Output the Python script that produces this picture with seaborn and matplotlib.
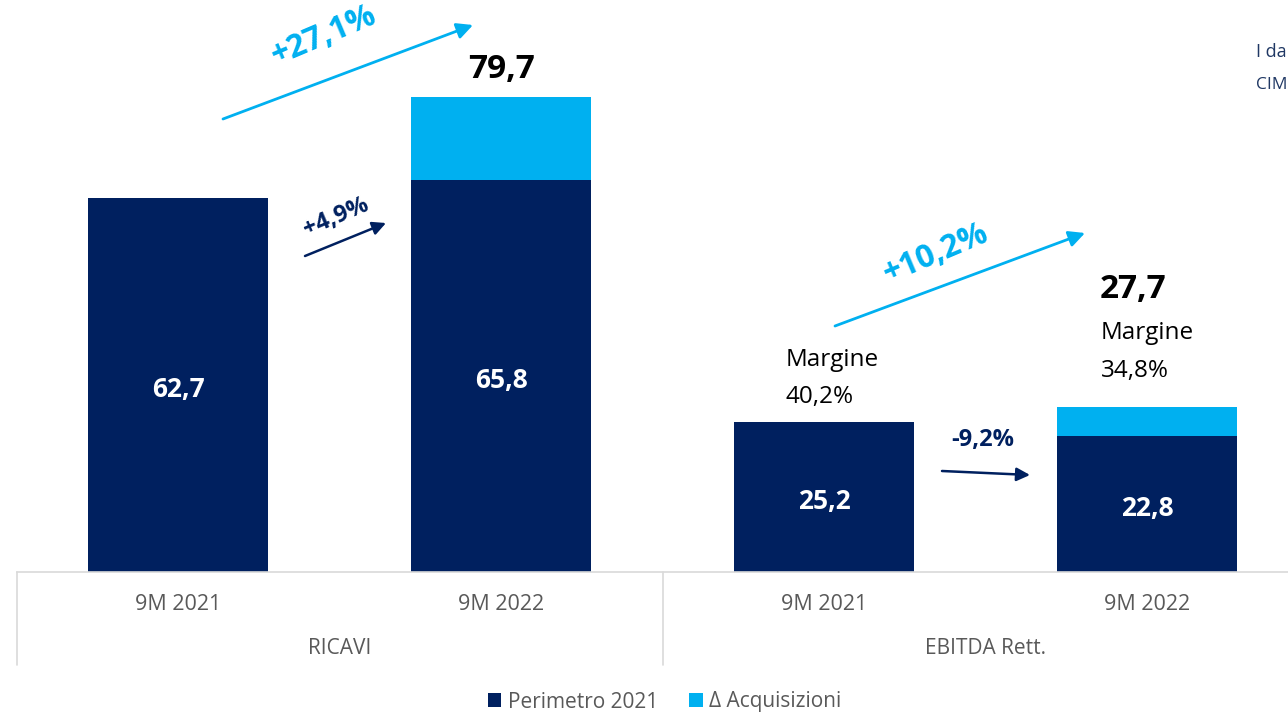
import matplotlib
matplotlib.use("Agg")
import matplotlib.pyplot as plt
import seaborn as sns
import pandas as pd
from matplotlib.patches import Patch
from matplotlib.transforms import blended_transform_factory

# ---- data ----
groups = ["RICAVI", "RICAVI", "EBITDA Rett.", "EBITDA Rett."]
periods = ["9M 2021", "9M 2022", "9M 2021", "9M 2022"]
perimetro = [62.7, 65.8, 25.2, 22.8]
acquisizioni = [0.0, 13.9, 0.0, 4.9]
totals = [62.7, 79.7, 25.2, 27.7]
margins = [None, None, "40,2%", "34,8%"]
growth_total = ["+27,1%", "+10,2%"]
growth_perim = ["+4,9%", "-9,2%"]
legend_labels = ["Perimetro 2021", "\u0394 Acquisizioni"]
note_lines = ["I da", "CIM"]

DARK = "#00205F"
LIGHT = "#00B0F0"
GRAY = "#595959"
LINE = "#D9D9D9"

sns.set_theme(style="white")
plt.rcParams["font.family"] = ["Open Sans", "DejaVu Sans"]

W, H = 1288, 714
fig = plt.figure(figsize=(W / 100, H / 100), dpi=100)
base_px = 572
PXU = 5.965  # pixels per unit
ax = fig.add_axes([16.5 / W, (H - base_px) / H, 1292.5 / W, (base_px - 10) / H])

df = pd.DataFrame({
    "key": [g + "|" + p for g, p in zip(groups, periods)],
    "group": groups,
    "period": periods,
    "perimetro": perimetro,
    "totale": [p + a for p, a in zip(perimetro, acquisizioni)],
})
order = list(df["key"])
sns.barplot(data=df, x="key", y="totale", order=order, color=LIGHT, width=0.557,
            saturation=1, ax=ax, edgecolor="none")
sns.barplot(data=df, x="key", y="perimetro", order=order, color=DARK, width=0.557,
            saturation=1, ax=ax, edgecolor="none")

ax.set_xlim(-0.5, 3.5)
ax.set_ylim(0, (base_px - 10) / PXU)
ax.set_xlabel("")
ax.set_ylabel("")
ax.set_xticks([])
ax.set_yticks([])
for s in ["top", "right", "left"]:
    ax.spines[s].set_visible(False)
ax.spines["bottom"].set_color(LINE)
ax.spines["bottom"].set_linewidth(1.2)

trans = blended_transform_factory(ax.transData, ax.transAxes)
ax_h_px = base_px - 10
def ay(py):
    return (base_px - py) / ax_h_px

# group separators
for xs in [-0.5, 1.5, 3.5]:
    ax.plot([xs, xs], [0, ay(665)], color=LINE, lw=1.2, transform=trans, clip_on=False)

# tick labels
for i, p in enumerate(periods):
    ax.text(i, ay(605), p, transform=trans, ha="center", va="center",
            fontsize=15.5, color=GRAY)
for gi, g in enumerate(["RICAVI", "EBITDA Rett."]):
    ax.text(2 * gi + 0.5, ay(649), g, transform=trans, ha="center", va="center",
            fontsize=15, color=GRAY)

# value labels inside bars
for i, v in enumerate(perimetro):
    ax.text(i, v / 2 - 4.5 / PXU, f"{v:.1f}".replace(".", ","), ha="center", va="center",
            color="white", fontsize=19, fontweight="bold")

# totals
ax.text(1, totals[1] + 27 / PXU, f"{totals[1]:.1f}".replace(".", ","),
        ha="center", va="center", fontsize=24, fontweight="bold", color="black")
ax.text(3 - 14 / 323, totals[3] + 117 / PXU, f"{totals[3]:.1f}".replace(".", ","),
        ha="center", va="center", fontsize=24, fontweight="bold", color="black")

# margins
ax.text(2 + 8 / 323, totals[2] + 43 / PXU, "Margine\n" + margins[2], ha="center", va="center",
        multialignment="left", fontsize=17.5, color="black", linespacing=1.75)
ax.text(3, totals[3] + 55 / PXU, "Margine\n" + margins[3], ha="center", va="center",
        multialignment="left", fontsize=17.5, color="black", linespacing=1.75)

def fp(px, py):
    return (px / W, 1 - py / H)

def arrow(p0, p1, color, lw, ms):
    fig.add_artist(matplotlib.patches.FancyArrowPatch(
        fp(*p0), fp(*p1), transform=fig.transFigure, arrowstyle="-|>",
        mutation_scale=ms, color=color, lw=lw, shrinkA=0, shrinkB=0))

arrow((223, 119), (473, 25), LIGHT, 2.0, 24)
arrow((835, 326), (1085, 233), LIGHT, 2.0, 24)
arrow((305, 256), (386, 223), DARK, 1.8, 20)
arrow((942, 471), (1030, 475), DARK, 1.8, 20)

fig.text(*fp(324, 36), growth_total[0], rotation=23, ha="center", va="center",
         fontsize=23, fontweight="bold", color=LIGHT)
fig.text(*fp(936, 254), growth_total[1], rotation=23, ha="center", va="center",
         fontsize=23, fontweight="bold", color=LIGHT)
fig.text(*fp(336, 217), growth_perim[0], rotation=23, ha="center", va="center",
         fontsize=17, fontweight="bold", color=DARK)
fig.text(*fp(983, 440), growth_perim[1], rotation=0, ha="center", va="center",
         fontsize=17, fontweight="bold", color=DARK)

# top-right note (cut off in the original)
fig.text(*fp(1256, 52), note_lines[0], ha="left", va="center", fontsize=13, color="#203864")
fig.text(*fp(1256, 85), note_lines[1], ha="left", va="center", fontsize=12.5, color="#203864")

handles = [Patch(facecolor=DARK, edgecolor="none"), Patch(facecolor=LIGHT, edgecolor="none")]
leg = fig.legend(handles, legend_labels, loc="center", bbox_to_anchor=(664.5 / W, 1 - 702 / H),
                 ncol=2, frameon=False, fontsize=15, handlelength=0.65, handleheight=0.65,
                 handletextpad=0.3, columnspacing=1.5)
for t in leg.get_texts():
    t.set_color(GRAY)

fig.savefig("out.png", dpi=100)
